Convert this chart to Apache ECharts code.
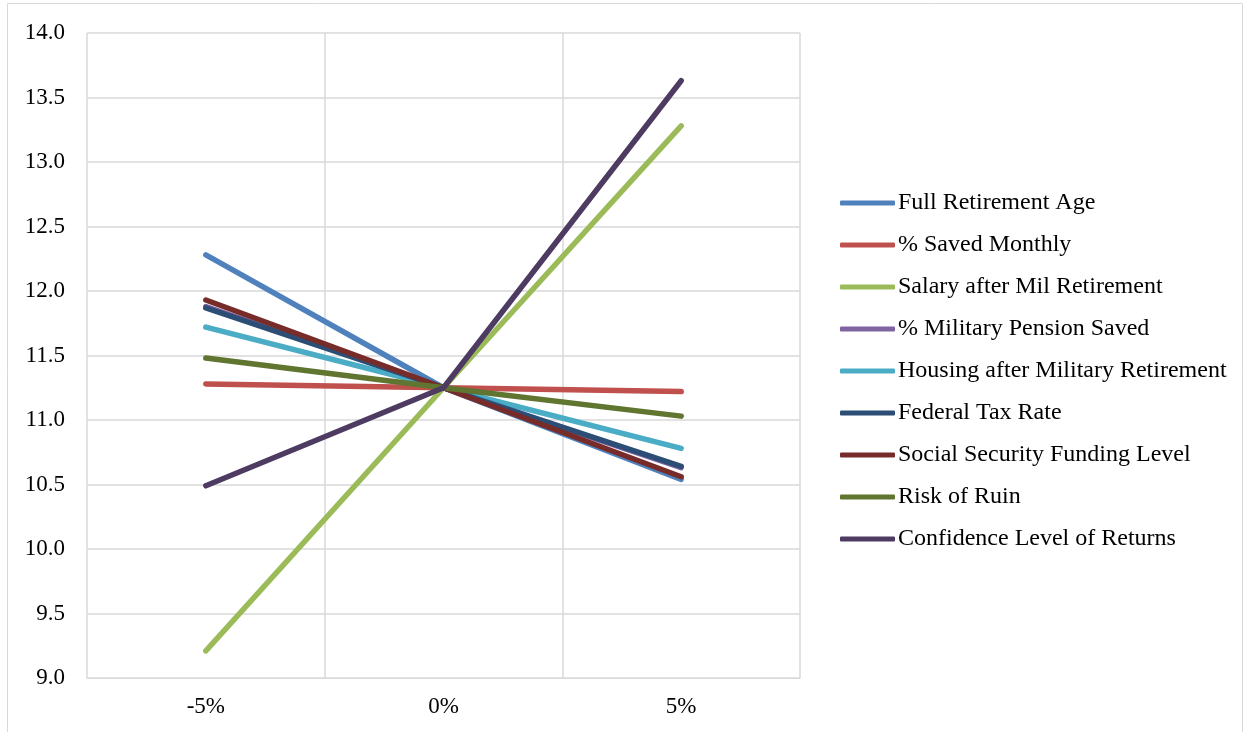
<!DOCTYPE html>
<html>
<head>
<meta charset="utf-8">
<script src="https://cdn.jsdelivr.net/npm/echarts@6/dist/echarts.min.js"></script>
<style>
  html, body { margin: 0; padding: 0; background: #fff; }
  #contain { width: 1245px; height: 732px; }
</style>
</head>
<body>
<div id="contain"></div>
<script>
// categories (change in each input)
var categories = ['-5%', '0%', '5%'];

// series names and values
var names = [
    'Full Retirement Age',
    '% Saved Monthly',
    'Salary after Mil Retirement',
    '% Military Pension Saved',
    'Housing after Military Retirement',
    'Federal Tax Rate',
    'Social Security Funding Level',
    'Risk of Ruin',
    'Confidence Level of Returns'
];
var fullRetirementAge   = [12.28, 11.25, 10.54];
var savedMonthly        = [11.28, 11.25, 11.22];
var salaryAfterMil      = [9.21, 11.25, 13.28];
var militaryPension     = [11.88, 11.25, 10.63];
var housingAfterMil     = [11.72, 11.25, 10.78];
var federalTaxRate      = [11.87, 11.25, 10.64];
var socialSecurity      = [11.93, 11.25, 10.56];
var riskOfRuin          = [11.48, 11.25, 11.03];
var confidenceReturns   = [10.49, 11.25, 13.63];

var values = [fullRetirementAge, savedMonthly, salaryAfterMil, militaryPension,
              housingAfterMil, federalTaxRate, socialSecurity, riskOfRuin, confidenceReturns];
var colors = ['#4F81BD', '#C0504D', '#9BBB59', '#8064A2', '#4BACC6',
              '#2C4D75', '#772C2A', '#5F7530', '#4D3B62'];

var font = '"Liberation Serif", "Times New Roman", serif';

var myChart = echarts.init(document.getElementById('contain'));

var series = [];
for (var i = 0; i < names.length; i++) {
    series.push({
        name: names[i],
        type: 'line',
        data: values[i],
        showSymbol: false,
        symbol: 'none',
        color: colors[i],
        lineStyle: { width: 5.5, color: colors[i], cap: 'round' }
    });
}

var option = {
    animation: false,
    color: colors,
    graphic: [{
        type: 'rect',
        shape: { x: 7.5, y: 3.5, width: 1235, height: 740 },
        style: { fill: 'none', stroke: '#D9D9D9', lineWidth: 1 },
        silent: true
    }],
    grid: { left: 87, right: 445, top: 33, bottom: 54 },
    legend: {
        orient: 'vertical',
        left: 835,
        top: 186,
        icon: 'roundRect',
        itemWidth: 55,
        itemHeight: 5,
        itemGap: 18,
        textStyle: { fontFamily: font, fontSize: 24, color: '#000', padding: [0, 0, 0, -2] },
        data: names
    },
    xAxis: {
        type: 'category',
        data: categories,
        boundaryGap: true,
        axisLine: { show: true, lineStyle: { color: '#D9D9D9', width: 1 } },
        axisTick: { show: false },
        splitLine: { show: true, lineStyle: { color: '#D9D9D9', width: 1.5 } },
        axisLabel: { fontFamily: font, fontSize: 23, color: '#000', margin: 17 }
    },
    yAxis: {
        type: 'value',
        min: 9,
        max: 14,
        interval: 0.5,
        axisLine: { show: false },
        axisTick: { show: false },
        splitLine: { show: true, lineStyle: { color: '#D9D9D9', width: 1.5 } },
        axisLabel: {
            fontFamily: font, fontSize: 23, color: '#000', margin: 22,
            formatter: function (v) { return v.toFixed(1); }
        }
    },
    series: series
};

myChart.setOption(option);
</script>
</body>
</html>
